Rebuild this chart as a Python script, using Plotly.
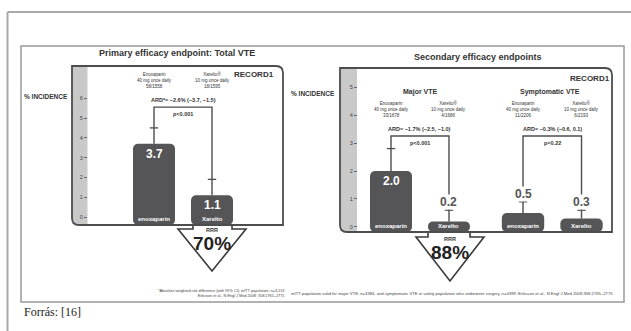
import plotly.graph_objects as go

W, H = 631, 331

# ---------------- data ----------------
arms = ["enoxaparin", "Xarelto"]
total_vte = [3.7, 1.1]
total_ci_upper = [4.5, 1.9]
major_vte = [2.0, 0.2]
major_ci_upper = [2.8, 0.6]
sympt_vte = [0.5, 0.3]
sympt_ci_upper = [0.9, 0.6]
left_ticks = [0, 1, 2, 3, 4, 5, 6]
right_ticks = [0, 1, 2, 3, 4, 5]

total_arm_info = [["Enoxaparin", "40 mg once daily", "58/1558"],
                  ["Xarelto®", "10 mg once daily", "18/1595"]]
major_arm_info = [["Enoxaparin", "40 mg once daily", "33/1678"],
                  ["Xarelto®", "10 mg once daily", "4/1686"]]
sympt_arm_info = [["Enoxaparin", "40 mg once daily", "11/2206"],
                  ["Xarelto®", "10 mg once daily", "6/2193"]]
total_ard = "ARD*= −2.6% (−3.7, −1.5)"
total_p = "p<0.001"
major_ard = "ARD= −1.7% (−2.5, −1.0)"
major_p = "p<0.001"
sympt_ard = "ARD= −0.3% (−0.6, 0.1)"
sympt_p = "p=0.22"
total_rrr = "70%"
major_rrr = "88%"

# ---------------- styles ----------------
FONT = "Liberation Sans Narrow, Liberation Sans, Arial, sans-serif"
BAR_C = "#555557"
LINE_C = "#4d4d4d"
TXT_C = "#333333"
BAND_C = "#c9c9c9"
FRAME_C = "#a9a9a9"

LEFT_RANGE = [-0.404, 7.626]
RIGHT_RANGE = [-0.179, 5.679]
LEFT_BRACKET = 5.55
RIGHT_BRACKET = 3.25
BAR_W = 0.724


def px(x):
    return x / W


def py(y):
    return 1 - y / H


fig = go.Figure()


def add_panel(xa, ya, values, ci_upper, base, bracket, inside_min):
    fig.add_trace(go.Bar(
        x=arms, y=[v - base for v in values], base=base, width=BAR_W,
        marker=dict(color=BAR_C, line=dict(width=0)),
        xaxis=xa, yaxis=ya, showlegend=False, hoverinfo="skip"))
    # bracket line from bar tops to bracket level
    fig.add_trace(go.Scatter(
        x=[arms[0], arms[0], arms[1], arms[1]],
        y=[values[0], bracket, bracket, values[1]],
        mode="lines", line=dict(color=LINE_C, width=1.4),
        xaxis=xa, yaxis=ya, showlegend=False, hoverinfo="skip"))
    # CI caps
    fig.add_trace(go.Scatter(
        x=arms, y=ci_upper, mode="markers",
        marker=dict(symbol="line-ew-open", size=6, color=LINE_C,
                    line=dict(color=LINE_C, width=1.3)),
        xaxis=xa, yaxis=ya, showlegend=False, hoverinfo="skip"))
    anns = []
    for arm, v, ci in zip(arms, values, ci_upper):
        lab = f"<b>{v:.1f}</b>"
        if v >= inside_min:
            anns.append(dict(x=arm, y=v, xref=xa, yref=ya, text=lab,
                             showarrow=False, yanchor="top", yshift=-1,
                             font=dict(family=FONT, size=12, color="white")))
        else:
            anns.append(dict(x=arm, y=ci, xref=xa, yref=ya, text=lab,
                             showarrow=False, yanchor="bottom", yshift=0,
                             bgcolor="white", borderpad=0,
                             font=dict(family=FONT, size=12, color="#555555")))
        anns.append(dict(x=arm, y=base, xref=xa, yref=ya, text=f"<b>{arm}</b>",
                         showarrow=False, yanchor="bottom", yshift=1,
                         font=dict(family=FONT, size=6, color="white")))
    return anns


annotations = []
annotations += add_panel("x", "y", total_vte, total_ci_upper,
                         LEFT_RANGE[0], LEFT_BRACKET, 1.0)
annotations += add_panel("x2", "y2", major_vte, major_ci_upper,
                         RIGHT_RANGE[0], RIGHT_BRACKET, 1.0)
annotations += add_panel("x3", "y3", sympt_vte, sympt_ci_upper,
                         RIGHT_RANGE[0], RIGHT_BRACKET, 1.0)


def text(t, x, y, size, color=TXT_C, xanchor="center", family=FONT, bold=False):
    if bold:
        t = f"<b>{t}</b>"
    annotations.append(dict(text=t, x=px(x), y=py(y), xref="paper", yref="paper",
                            showarrow=False, xanchor=xanchor, yanchor="middle",
                            font=dict(family=family, size=size, color=color)))


def ard_block(xa, ya, bracket, ard, p):
    annotations.append(dict(text=f"<b>{ard}</b>", x=0.5, y=bracket, xref=xa, yref=ya,
                            showarrow=False, yanchor="bottom", yshift=2,
                            font=dict(family=FONT, size=5.5, color=TXT_C)))
    annotations.append(dict(text=f"<b>{p}</b>", x=0.5, y=bracket, xref=xa, yref=ya,
                            showarrow=False, yanchor="top", yshift=-2,
                            font=dict(family=FONT, size=5.5, color=TXT_C)))


def arm_info(xa, ya, yval, info):
    for arm, lines in zip(arms, info):
        annotations.append(dict(text="<br>".join(lines), x=arm, y=yval, xref=xa, yref=ya,
                                showarrow=False, yanchor="middle",
                                font=dict(family=FONT, size=4.5, color=TXT_C)))


ard_block("x", "y", LEFT_BRACKET, total_ard, total_p)
ard_block("x2", "y2", RIGHT_BRACKET, major_ard, major_p)
ard_block("x3", "y3", RIGHT_BRACKET, sympt_ard, sympt_p)
arm_info("x", "y", 6.9, total_arm_info)
arm_info("x2", "y2", 4.2, major_arm_info)
arm_info("x3", "y3", 4.2, sympt_arm_info)

# titles & labels
text("Primary efficacy endpoint: Total VTE", 177, 53, 9, bold=True)
text("Secondary efficacy endpoints", 478, 57, 9, bold=True)
text("% INCIDENCE", 46, 96, 6.5, bold=True)
text("% INCIDENCE", 313, 93, 6.5, bold=True)
text("RECORD1", 254, 74, 8, bold=True)
text("RECORD1", 590, 78, 8, bold=True)
text("Major VTE", 420, 92, 7, bold=True)
text("Symptomatic VTE", 550, 92, 7, bold=True)
text("RRR", 212, 230, 5.5, bold=True)
text(total_rrr, 212, 243, 19, color="#222222", bold=True)
text("RRR", 450, 239, 5.5, bold=True)
text(major_rrr, 450, 252, 19, color="#222222", bold=True)
annotations.append(dict(
    text="*Absolute weighted risk difference (with 95% CI); mITT population, n=3,153<br>"
         "Eriksson et al., N Engl J Med 2008; 358:2765–2775",
    x=px(286), y=py(293), xref="paper", yref="paper", showarrow=False,
    xanchor="right", yanchor="middle", align="right",
    font=dict(family=FONT, size=3.8, color="#444444")))
text("mITT population valid for major VTE, n=3384, and symptomatic VTE in safety population "
     "who underwent surgery, n=4399; Eriksson et al., N Engl J Med 2008;358:2765–2775",
     289, 293, 4.2, color="#444444", xanchor="left")
text("Forrás: [16]", 22, 312, 12, color="#222222", xanchor="left",
     family="Liberation Serif, Times New Roman, serif")


# shapes
def path(points, close=True):
    s = "M " + " L ".join(f"{px(a):.5f},{py(b):.5f}" for a, b in points)
    return s + (" Z" if close else "")


def rbox(x0, y0, x1, y1, r):
    # square top-left, rounded top-right, square bottom-right, rounded bottom-left
    return (f"M {px(x0)},{py(y0)} L {px(x1 - r)},{py(y0)} "
            f"Q {px(x1)},{py(y0)} {px(x1)},{py(y0 + r)} "
            f"L {px(x1)},{py(y1)} L {px(x0 + r)},{py(y1)} "
            f"Q {px(x0)},{py(y1)} {px(x0)},{py(y1 - r)} Z")


shapes = [
    # outer page lines
    dict(type="line", xref="paper", yref="paper", x0=px(7.5), x1=px(7.5), y0=py(12), y1=0,
         line=dict(color=FRAME_C, width=2)),
    dict(type="line", xref="paper", yref="paper", x0=px(7.5), x1=1, y0=py(12), y1=py(12),
         line=dict(color=FRAME_C, width=2)),
    # image frame
    dict(type="rect", xref="paper", yref="paper", x0=px(21), x1=px(624), y0=py(302), y1=py(46),
         line=dict(color="#999999", width=1.5)),
    # gray bands
    dict(type="rect", xref="paper", yref="paper", x0=px(72), x1=px(87.5), y0=py(224), y1=py(66),
         fillcolor=BAND_C, line=dict(width=0), layer="below"),
    dict(type="rect", xref="paper", yref="paper", x0=px(340), x1=px(357), y0=py(231), y1=py(68),
         fillcolor=BAND_C, line=dict(width=0), layer="below"),
    # panel boxes
    dict(type="path", xref="paper", yref="paper", path=rbox(72, 66, 283, 225, 7),
         line=dict(color=LINE_C, width=1.8)),
    dict(type="path", xref="paper", yref="paper", path=rbox(340, 68, 612, 232, 7),
         line=dict(color=LINE_C, width=1.8)),
    # arrows
    dict(type="path", xref="paper", yref="paper",
         path=path([(193, 225), (193, 229), (178, 229), (212, 271), (246, 229), (232, 229), (232, 225)]),
         fillcolor="white", line=dict(color="#3a3a3a", width=1.6), layer="below"),
    dict(type="path", xref="paper", yref="paper",
         path=path([(428, 232), (428, 237), (416, 237), (450, 281), (484, 237), (470, 237), (470, 232)]),
         fillcolor="white", line=dict(color="#3a3a3a", width=1.6), layer="below"),
]

hidden_x = dict(showticklabels=False, showgrid=False, zeroline=False, showline=False,
                ticks="", type="category", categoryorder="array", categoryarray=arms,
                fixedrange=True)
ytick = dict(showgrid=False, zeroline=False, showline=False, ticks="outside", ticklen=3,
             tickwidth=1, tickcolor="#666666", tickfont=dict(family=FONT, size=5.5, color="#444444"),
             fixedrange=True)

fig.update_layout(
    width=W, height=H, margin=dict(l=0, r=0, t=0, b=0),
    paper_bgcolor="white", plot_bgcolor="rgba(0,0,0,0)",
    barcornerradius=5, showlegend=False,
    xaxis=dict(domain=[px(88), px(283)], range=[-1.138, 2.224], anchor="y", **hidden_x),
    yaxis=dict(domain=[py(225), py(66)], range=LEFT_RANGE, tickvals=left_ticks,
               anchor="x", **ytick),
    xaxis2=dict(domain=[px(358), px(485)], range=[-0.569, 1.621], anchor="y2", **hidden_x),
    yaxis2=dict(domain=[py(232), py(68)], range=RIGHT_RANGE, tickvals=right_ticks,
                anchor="x2", **ytick),
    xaxis3=dict(domain=[px(485), px(612)], range=[-0.650, 1.521], anchor="y3", **hidden_x),
    yaxis3=dict(domain=[py(232), py(68)], range=RIGHT_RANGE, anchor="x3", visible=False,
                fixedrange=True),
    annotations=annotations,
    shapes=shapes,
)

fig.write_html("out.html", config={"displayModeBar": False})
